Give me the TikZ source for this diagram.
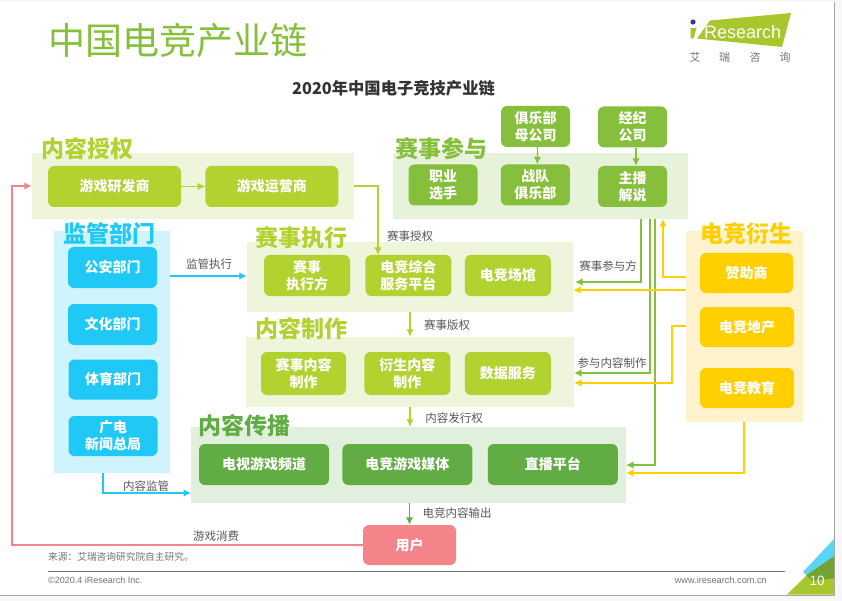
\documentclass[tikz,border=0pt]{standalone}
\usepackage{fontspec}
\setmainfont{Noto Sans CJK SC}
\newfontfamily\latinfont{Liberation Sans}
\usetikzlibrary{positioning, calc, arrows.meta, fit, backgrounds}
\definecolor{lime}{HTML}{B1D22F}
\definecolor{limeband}{HTML}{EEF5DA}
\definecolor{leaf}{HTML}{85BF3B}
\definecolor{leafband}{HTML}{E6F2DA}
\definecolor{forest}{HTML}{62AC44}
\definecolor{forestband}{HTML}{E0F0DC}
\definecolor{sky}{HTML}{1FC8F5}
\definecolor{skyband}{HTML}{CFF4FD}
\definecolor{amber}{HTML}{FFCF00}
\definecolor{amberband}{HTML}{FEF3CD}
\definecolor{rose}{HTML}{F5838A}
\definecolor{inkgray}{HTML}{595959}

\begin{document}
\begin{tikzpicture}[
    x=1pt, y=-1pt,
    >=Stealth,
    % Styles
    boxnode/.style={
        rectangle,
        rounded corners=6pt,
        minimum width=#1,
        minimum height=41pt,
        inner sep=0pt,
        align=center,
        text=white,
        font=\fontsize{14}{17}\selectfont\bfseries
    },
    limebox/.style={boxnode=#1, fill=lime},
    leafbox/.style={boxnode=#1, fill=leaf},
    forestbox/.style={boxnode=#1, fill=forest},
    skybox/.style={boxnode=#1, fill=sky},
    amberbox/.style={boxnode=#1, fill=amber},
    groupbox/.style={
        rectangle,
        inner sep=0pt,
        fill=#1
    },
    grouptitle/.style={
        font=\fontsize{23}{23}\selectfont\bfseries,
        inner sep=0pt,
        text=#1
    },
    edgelabel/.style={
        font=\fontsize{11.5}{12}\selectfont,
        text=inkgray,
        inner sep=0pt
    },
    arrow/.style={
        -{Latex[length=7.5pt, width=7.5pt]},
        draw=#1,
        line width=1.4pt
    }
]
    \useasboundingbox (0,0) rectangle (842,601);

    % ================= TITLES =================
    \node[font=\fontsize{37}{37}\selectfont, text=leaf, inner sep=0pt, anchor=west] (pagetitle) at (48.5,40) {中国电竞产业链};
    \node[font=\fontsize{16.3}{17}\selectfont\bfseries, text=black!80, inner sep=0pt] (charttitle) at (393.5,88) {2020年中国电子竞技产业链};

    % logo
    \fill[lime!95!black] (710,20.5) -- (791,13) -- (782,47) -- (697,38.5) -- cycle;
    \fill[lime!95!black] (690.5,28) -- (696.5,28) -- (693.5,38.5) -- (690.5,38.5) -- cycle;
    \fill[blue!60!black!80] (693,22) circle (2.6pt);
    \node[font=\latinfont\fontsize{18}{20}\selectfont, text=white, inner sep=0pt, anchor=west] (logotext) at (704,32) {Research};
    \foreach \logochar/\logox in {艾/695, 瑞/724.5, 咨/755, 询/785}
        \node[font=\fontsize{11}{11}\selectfont, text=black!55, inner sep=0pt] (logo\logox) at (\logox,57) {\logochar};

    % ================= BOXES =================
    % 内容授权
    \node[limebox=133pt] (dev) at (114.5,186.5) {游戏研发商};
    \node[limebox=133pt, right=24pt of dev] (ops) {游戏运营商};

    % 赛事参与
    \node[leafbox=69pt] (player) at (443,185) {职业\\选手};
    \node[leafbox=69pt, right=23pt of player] (club) {战队\\俱乐部};
    \node[leafbox=69pt] (caster) at (632.5,186.5) {主播\\解说};
    \node[leafbox=69pt] (parent) at (535.5,126.5) {俱乐部\\母公司};
    \node[leafbox=69pt] (agency) at (632.5,127) {经纪\\公司};

    % 监管部门
    \node[skybox=89pt] (police) at (112.5,267.5) {公安部门};
    \node[skybox=89pt] (culture) at (112.5,324.5) {文化部门};
    \node[skybox=89pt, minimum height=40pt] (sports) at (113,379.5) {体育部门};
    \node[skybox=89pt, minimum height=40pt] (radio) at (113,436) {广电\\新闻总局};

    % 赛事执行
    \node[limebox=86pt] (organizer) at (307,275.5) {赛事\\执行方};
    \node[limebox=86pt, right=15pt of organizer] (platform) {电竞综合\\服务平台};
    \node[limebox=86pt, right=13pt of platform] (venue) {电竞场馆};

    % 内容制作
    \node[limebox=85pt, minimum height=43pt] (eventwork) at (303.5,373.5) {赛事内容\\制作};
    \node[limebox=86pt, minimum height=43pt, right=18pt of eventwork] (derivwork) {衍生内容\\制作};
    \node[limebox=86pt, minimum height=43pt, right=14pt of derivwork] (datawork) {数据服务};

    % 内容传播
    \node[forestbox=130pt] (tv) at (264,464.5) {电视游戏频道};
    \node[forestbox=130pt, right=13pt of tv] (media) {电竞游戏媒体};
    \node[forestbox=130pt, right=15pt of media] (live) {直播平台};

    % 电竞衍生
    \node[amberbox=93pt, minimum height=40pt] (sponsor) at (746.5,273) {赞助商};
    \node[amberbox=94pt, minimum height=40pt] (realty) at (747,327) {电竞地产};
    \node[amberbox=94pt, minimum height=40pt] (school) at (747,388) {电竞教育};

    % 用户
    \node[boxnode=93pt, minimum height=40pt, fill=rose] (user) at (409.5,545) {用户};

    % ================= BACKGROUND LAYER =================
    \begin{pgfonlayer}{background}
        % page
        \fill[black!3] (0,0) rectangle (842,601);
        \fill[white] (0,2) rectangle (834,595);
        \draw[black!35, line width=1.5pt] (834.5,2) -- (834.5,595.5) -- (0,595.5);

        \node[groupbox=limeband, fit={(32,153) (354,219)}] (authband) {};
        \node[groupbox=leafband, fit={(393,153) (688,219)}] (joinband) {};
        \node[groupbox=skyband, fit={(54,231) (170,473)}] (superband) {};
        \node[groupbox=limeband, fit={(247,242) (573,312)}] (execband) {};
        \node[groupbox=limeband, fit={(246,337) (574,407)}] (makeband) {};
        \node[groupbox=forestband, fit={(191,427) (626,503)}] (spreadband) {};
        \node[groupbox=amberband, fit={(686,231) (803,422)}] (deriveband) {};
    \end{pgfonlayer}

    % ================= GROUP TITLES =================
    \node[grouptitle=lime] (authtitle) at (87,149) {内容授权};
    \node[grouptitle=leaf] (jointitle) at (441,149) {赛事参与};
    \node[grouptitle=sky] (supertitle) at (109,234) {监管部门};
    \node[grouptitle=lime] (exectitle) at (301,238) {赛事执行};
    \node[grouptitle=lime] (maketitle) at (301,329) {内容制作};
    \node[grouptitle=forest] (spreadtitle) at (244,426) {内容传播};
    \node[grouptitle=amber] (derivetitle) at (746,234) {电竞衍生};

    % ================= CONNECTIONS / ARROWS =================
    \coordinate (usercorner) at (12,545);
    \coordinate (licensedrop) at (378,255);
    \coordinate (superout) at (170,276);
    \coordinate (monitorout) at (103,473);
    \coordinate (monitorin) at (191,493);

    \draw[arrow=rose] (user.west) -- (usercorner) |- (authband.west);
    \draw[arrow=lime] (dev) -- (ops);
    \draw[arrow=lime] (authband.east) -| (licensedrop);
    \draw[arrow=sky] (superout) -- (superout -| execband.west);
    \draw[arrow=sky] (monitorout) |- (monitorin);
    \draw[arrow=lime] (execband.south) -- (makeband.north);
    \draw[arrow=lime] (makeband.south) -- (makeband.south |- spreadband.north);
    \draw[arrow=forest] (user.north |- spreadband.south) -- (user.north);
    \draw[arrow=leaf] ([xshift=2pt]parent.south) -- ([xshift=2pt]club.north);
    \draw[arrow=leaf] ([xshift=3.5pt]agency.south) -- ([xshift=3.5pt]caster.north);

    % 赛事参与 down to the other bands
    \coordinate (joinoutA) at (641,219);
    \coordinate (joinoutB) at (650,219);
    \coordinate (joinoutC) at (655,219);
    \coordinate (execinA) at (575,282);
    \coordinate (makeinA) at (574,373);
    \coordinate (spreadinA) at (626,465);
    \draw[arrow=leaf] (joinoutA) |- (execinA);
    \draw[arrow=leaf] (joinoutB) |- (makeinA);
    \draw[arrow=leaf] (joinoutC) |- (spreadinA);

    % 电竞衍生 to the other bands
    \coordinate (sponsorout) at (686,277);
    \coordinate (joinin) at (663,219);
    \coordinate (sponsoroutB) at (686,290);
    \coordinate (realtyout) at (686,326);
    \coordinate (realtyturn) at (672,326);
    \coordinate (makeinB) at (574,383);
    \coordinate (schoolout) at (744,422);
    \coordinate (spreadinB) at (626,473);
    \draw[arrow=amber] (sponsorout) -| (joinin);
    \draw[arrow=amber] (sponsoroutB) -- (sponsoroutB -| execband.east);
    \draw[arrow=amber] (realtyout) -- (realtyturn) |- (makeinB);
    \draw[arrow=amber] (schoolout) |- (spreadinB);

    % ================= EDGE LABELS =================
    \node[edgelabel] (licenselabel) at (410,236) {赛事授权};
    \node[edgelabel] (superlabel) at (209,264) {监管执行};
    \node[edgelabel] (rightslabel) at (447,325) {赛事版权};
    \node[edgelabel] (publishlabel) at (454,418) {内容发行权};
    \node[edgelabel] (outputlabel) at (457,513) {电竞内容输出};
    \node[edgelabel] (monitorlabel) at (146,486) {内容监管};
    \node[edgelabel] (consumelabel) at (216,536) {游戏消费};
    \node[edgelabel] (joinlabel) at (608,266) {赛事参与方};
    \node[edgelabel] (makelabel) at (612,363) {参与内容制作};

    % ================= FOOTER =================
    \node[font=\fontsize{9.7}{10}\selectfont, text=black!55, inner sep=0pt, anchor=west] (source) at (48,557) {来源：艾瑞咨询研究院自主研究。};
    \draw[black!55, line width=0.8pt] (48,571) -- (785,571);
    \node[font=\latinfont\fontsize{9}{10}\selectfont, text=black!55, inner sep=0pt, anchor=west] (copyright) at (48,580.5) {©2020.4 iResearch Inc.};
    \node[font=\latinfont\fontsize{9.2}{10}\selectfont, text=black!55, inner sep=0pt, anchor=east] (website) at (767,580.5) {www.iresearch.com.cn};

    % corner
    \fill[lime!95!black] (787,594.5) -- (807,575) -- (834,556) -- (834,594.5) -- cycle;
    \fill[leaf!85!black] (806,575) -- (834,556) -- (834,578) -- (812,581) -- cycle;
    \fill[sky!75!white] (803,572) -- (834,539) -- (834,556) -- (806,575) -- cycle;
    \node[font=\latinfont\fontsize{13.5}{14}\selectfont, text=white, inner sep=0pt] (pagenum) at (817,581) {10};
\end{tikzpicture}
\end{document}
